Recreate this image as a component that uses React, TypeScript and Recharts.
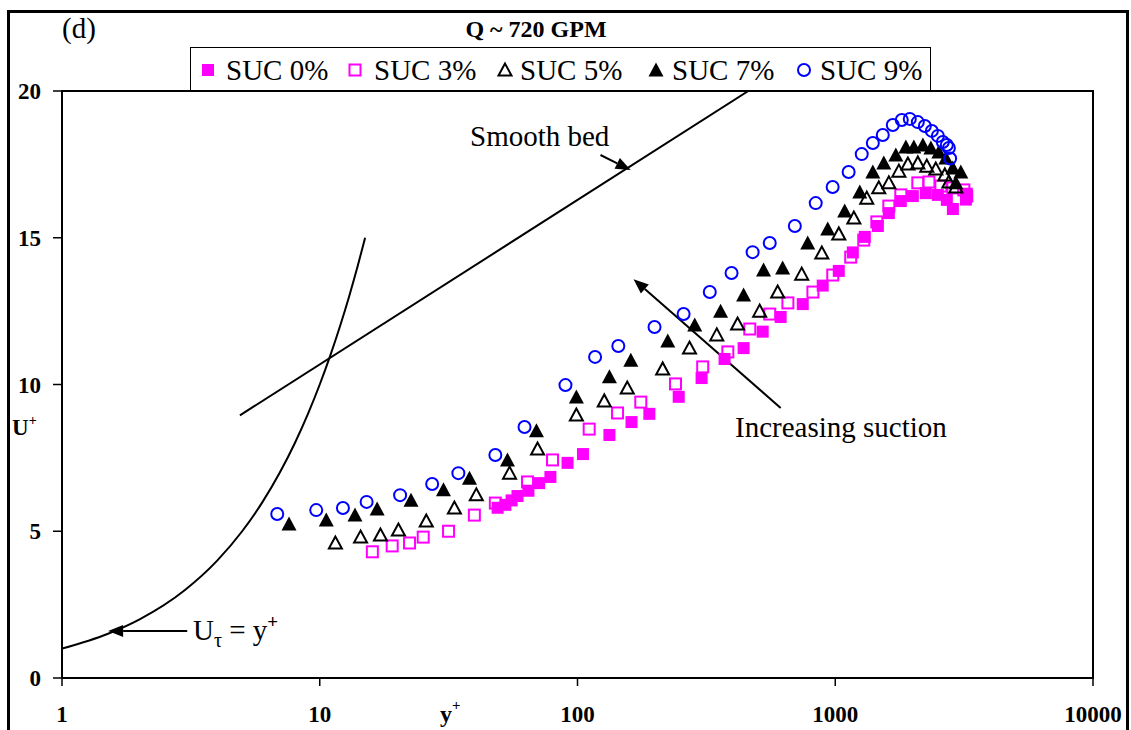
import React from "react";
import {
  ComposedChart,
  Line,
  Scatter,
  XAxis,
  YAxis,
  ReferenceLine,
  ReferenceArea,
} from "recharts";

// y+ ticks (log) and U+ ticks
const xTicks = [1, 10, 100, 1000, 10000];
const yTicks = [0, 5, 10, 15, 20];

// [y+, U+]
const suc0: [number, number][] = [
  [49, 5.8], [52.5, 5.9], [55.5, 6.05], [58.5, 6.2], [64.5, 6.38], [71, 6.64],
  [78.5, 6.85], [91.5, 7.33], [105, 7.63], [133, 8.28], [162, 8.72], [190, 9.0],
  [247, 9.58], [303, 10.22], [372, 10.87], [441, 11.24], [523, 11.8], [614, 12.3],
  [748, 12.74], [894, 13.37], [1032, 13.87], [1170, 14.5], [1302, 15.03],
  [1463, 15.4], [1614, 15.84], [1796, 16.25], [2000, 16.42], [2246, 16.52],
  [2500, 16.46], [2710, 16.29], [2860, 15.98], [3213, 16.3], [3237, 16.5],
];

const suc3: [number, number][] = [
  [16, 4.3], [19.1, 4.5], [22.3, 4.6], [25.2, 4.8], [31.6, 5.0], [39.8, 5.55],
  [48, 5.96], [64, 6.68], [80, 7.43], [111, 8.48], [143, 9.03], [176, 9.4],
  [240, 10.02], [306, 10.6], [383, 11.11], [466, 11.89], [557, 12.4], [655, 12.78],
  [819, 13.15], [978, 13.73], [1148, 14.34], [1290, 14.92], [1450, 15.54],
  [1614, 16.08], [1796, 16.46], [2091, 16.87], [2309, 16.9], [2569, 16.76],
  [2859, 16.7], [3155, 16.63], [3237, 16.42],
];

const suc5: [number, number][] = [
  [11.5, 4.6], [14.4, 4.8], [17.2, 4.87], [20.2, 5.04], [25.9, 5.35], [33.3, 5.79],
  [40.5, 6.24], [54.5, 6.98], [70, 7.8], [99, 8.96], [127, 9.44], [156, 9.88],
  [214, 10.53], [272, 11.24], [347, 11.69], [418, 12.06], [509, 12.5], [598, 13.15],
  [741, 13.76], [887, 14.48], [1032, 15.13], [1181, 15.67], [1325, 16.35],
  [1475, 16.7], [1614, 16.87], [1765, 17.27], [1914, 17.51], [2091, 17.55],
  [2265, 17.44], [2455, 17.34], [2661, 17.14], [2760, 16.9], [2937, 16.73],
];

const suc7: [number, number][] = [
  [7.6, 5.25], [10.6, 5.38], [13.7, 5.55], [16.7, 5.76], [22.6, 6.06], [30.2, 6.41],
  [38.1, 6.81], [53.5, 7.43], [69.3, 8.42], [99, 9.57], [133, 10.26], [161, 10.83],
  [224, 11.48], [285, 12.03], [359, 12.5], [441, 13.05], [527, 13.9], [625, 13.97],
  [782, 14.82], [935, 15.3], [1088, 15.91], [1245, 16.56], [1399, 17.24],
  [1543, 17.55], [1718, 17.82], [1879, 18.09], [2018, 18.09], [2188, 18.16],
  [2350, 18.06], [2523, 17.92], [2686, 17.72], [2858, 17.38], [3070, 17.24],
  [2937, 16.87],
];

const suc9: [number, number][] = [
  [6.84, 5.59], [9.69, 5.72], [12.3, 5.79], [15.2, 6.0], [20.5, 6.23], [27.3, 6.61],
  [34.5, 6.98], [48, 7.6], [62.3, 8.55], [89.8, 9.98], [117, 10.94], [144, 11.31],
  [199, 11.96], [258, 12.4], [326, 13.15], [396, 13.8], [478, 14.51], [557, 14.82],
  [697, 15.4], [840, 16.18], [977, 16.73], [1127, 17.24], [1267, 17.85],
  [1399, 18.23], [1529, 18.5], [1672, 18.84], [1812, 19.01], [1946, 19.05],
  [2091, 18.94], [2226, 18.81], [2370, 18.64], [2501, 18.47], [2614, 18.26],
  [2709, 18.16], [2760, 18.06], [2790, 17.7],
];

// U+ = y+ (viscous sublayer) and the smooth-bed log law
const viscous: [number, number][] = [
  [1, 1], [1.5, 1.5], [2, 2], [3, 3], [4, 4], [5, 5], [6, 6], [7, 7], [8, 8],
  [9, 9], [10, 10], [11, 11], [12, 12], [13, 13], [14, 14], [15, 15],
];
const smoothBed: [number, number][] = [
  [4.9, 8.95],
  [460, 20],
];

const toPts = (a: [number, number][]) => a.map(([x, y]) => ({ x, y }));

const MAG = "#FF00FF";
const BLUE = "#0000FF";
const FONT = "'Liberation Serif', 'Times New Roman', serif";

const FilledSquare = ({ cx, cy }: any) => (
  <rect x={cx - 6} y={cy - 6} width={12} height={12} fill={MAG} />
);
const OpenSquare = ({ cx, cy }: any) => (
  <rect x={cx - 5.5} y={cy - 5.5} width={11} height={11} fill="none" stroke={MAG} strokeWidth={2} />
);
const triPts = (cx: number, cy: number, s = 7) =>
  `${cx},${cy - s} ${cx - s},${cy + s - 1} ${cx + s},${cy + s - 1}`;
const OpenTri = ({ cx, cy }: any) => (
  <polygon points={triPts(cx, cy, 6.5)} fill="none" stroke="#000" strokeWidth={2} strokeLinejoin="miter" />
);
const FilledTri = ({ cx, cy }: any) => <polygon points={triPts(cx, cy, 7.5)} fill="#000" />;
const OpenCircle = ({ cx, cy }: any) => (
  <circle cx={cx} cy={cy} r={6} fill="none" stroke={BLUE} strokeWidth={2} />
);

const Arrow = (props: any) => {
  const { x1, y1, x2, y2 } = props;
  const a = Math.atan2(y2 - y1, x2 - x1);
  const L = 15;
  const W = 6;
  const bx = x2 - L * Math.cos(a);
  const by = y2 - L * Math.sin(a);
  const p = `${x2},${y2} ${bx - W * Math.sin(a)},${by + W * Math.cos(a)} ${bx + W * Math.sin(a)},${by - W * Math.cos(a)}`;
  return (
    <g>
      <line x1={x1} y1={y1} x2={bx} y2={by} stroke="#000" strokeWidth={2} />
      <polygon points={p} fill="#000" />
    </g>
  );
};

const legendItems = [
  { name: "SUC 0%", Mark: FilledSquare, mx: 208, tx: 226 },
  { name: "SUC 3%", Mark: OpenSquare, mx: 355, tx: 374 },
  { name: "SUC 5%", Mark: OpenTri, mx: 505, tx: 520 },
  { name: "SUC 7%", Mark: FilledTri, mx: 656, tx: 672 },
  { name: "SUC 9%", Mark: OpenCircle, mx: 804, tx: 820 },
];

const tickStyle = { fontSize: 23, fontWeight: "bold", fill: "#000", fontFamily: FONT };

export default function App() {
  return (
    <div style={{ position: "absolute", left: 0, top: 0, width: 1131, height: 730, overflow: "hidden", fontFamily: FONT }}>
      <div
        style={{
          position: "absolute",
          left: 7,
          top: 10,
          width: 1122,
          height: 760,
          border: "3px solid #000",
          boxSizing: "border-box",
        }}
      />
      <ComposedChart
        width={1131}
        height={730}
        margin={{ top: 91, right: 38, bottom: 0, left: 0 }}
        style={{ position: "absolute", left: 0, top: 0 }}
      >
        <XAxis
          dataKey="x"
          type="number"
          scale="log"
          domain={[1, 10000]}
          ticks={xTicks}
          allowDataOverflow
          height={52}
          tick={tickStyle}
          tickSize={8}
          tickMargin={20}
          axisLine={{ stroke: "#000", strokeWidth: 2 }}
          tickLine={{ stroke: "#000", strokeWidth: 1.5 }}
        />
        <YAxis
          dataKey="y"
          type="number"
          domain={[0, 20]}
          ticks={yTicks}
          allowDataOverflow
          width={62}
          tick={tickStyle}
          tickSize={9}
          tickMargin={12}
          axisLine={{ stroke: "#000", strokeWidth: 2 }}
          tickLine={{ stroke: "#000", strokeWidth: 1.5 }}
        />
        <ReferenceArea x1={1} x2={10000} y1={0} y2={20} fill="none" stroke="#000" strokeWidth={2} />
        <Line
          data={toPts(viscous)}
          dataKey="y"
          type="monotone"
          stroke="#000"
          strokeWidth={2}
          dot={false}
          isAnimationActive={false}
        />
        <Line
          data={toPts(smoothBed)}
          dataKey="y"
          type="linear"
          stroke="#000"
          strokeWidth={2}
          dot={false}
          isAnimationActive={false}
        />
        <Scatter data={toPts(suc0)} shape={FilledSquare} isAnimationActive={false} />
        <Scatter data={toPts(suc3)} shape={OpenSquare} isAnimationActive={false} />
        <Scatter data={toPts(suc5)} shape={OpenTri} isAnimationActive={false} />
        <Scatter data={toPts(suc7)} shape={FilledTri} isAnimationActive={false} />
        <Scatter data={toPts(suc9)} shape={OpenCircle} isAnimationActive={false} />
        <ReferenceLine segment={[{ x: 122.8, y: 17.82 }, { x: 160.8, y: 17.31 }]} shape={Arrow} ifOverflow="visible" />
        <ReferenceLine segment={[{ x: 614, y: 9.2 }, { x: 165, y: 13.59 }]} shape={Arrow} ifOverflow="visible" />
        <ReferenceLine segment={[{ x: 3.06, y: 1.6 }, { x: 1.51, y: 1.6 }]} shape={Arrow} ifOverflow="visible" />
      </ComposedChart>
      <svg width={1131} height={730} style={{ position: "absolute", left: 0, top: 0, pointerEvents: "none" }}>
        <g fontFamily={FONT} fill="#000">
          <text x={62} y={38} fontSize={29}>(d)</text>
          <text x={536} y={37} fontSize={24} fontWeight="bold" textAnchor="middle">Q ~ 720 GPM</text>
          <rect x={190.5} y={47.5} width={740} height={43} fill="#fff" stroke="#000" strokeWidth={1} />
          {legendItems.map(({ name, Mark, mx, tx }) => (
            <g key={name}>
              <Mark cx={mx} cy={70} />
              <text x={tx} y={80} fontSize={29}>{name}</text>
            </g>
          ))}
          <text x={470} y={146} fontSize={29}>Smooth bed</text>
          <text x={735} y={437} fontSize={29}>Increasing suction</text>
          <text x={193} y={640} fontSize={29}>
            U<tspan fontSize={20} dy={7}>τ</tspan>
            <tspan dy={-7}> = y</tspan>
            <tspan fontSize={19} dy={-12} fontWeight="bold">+</tspan>
          </text>
          <text x={440} y={722} fontSize={24} fontWeight="bold">
            y<tspan fontSize={15} dy={-12}>+</tspan>
          </text>
          <text x={12} y={435} fontSize={23} fontWeight="bold">
            U<tspan fontSize={14} dy={-10}>+</tspan>
          </text>
        </g>
      </svg>
    </div>
  );
}
